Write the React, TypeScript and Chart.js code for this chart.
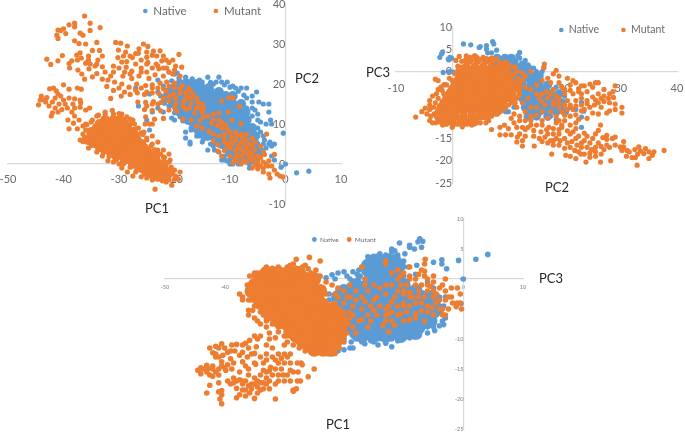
import React, { useEffect, useRef } from "react";
import { Chart, registerables } from "chart.js";

Chart.register(...registerables);

const NATIVE = "#5B9BD5";
const MUTANT = "#ED7D31";
const FONT = "Lato";

// PC1 vs PC2 (flat x,y lists)
const pc12Mutant = [
-36.2,37,-35.2,35.2,-35.2,33.4,-33.4,34.1,-38,35.2,-38,34.3,-39,34.8,-40,33.8,-40.5,33.4,-41,33.5,-41.2,32.2,-39.6,32.6,-41,31.4,-37,32.7,-36.5,32.2,-38,30.8,-37.2,30.1,-36,30,-34,30.4,
-43,26.2,-42.3,24.9,-41,25.8,-40.2,27.1,-39,25.1,-38.5,25.8,-38.9,24,-37.6,27.2,-37,27.8,-36.8,26.5,-36,25.2,-35.5,27,-35.2,25,-37.4,23.5,-36.7,22.5,-35.4,23.8,-34.3,24.5,-33.8,26,-34.8,28.4,-33.5,28.4,-33,24.3,-34.8,21.8,-36.2,21.2,-34,22.6,-33,21.2,-32.5,23,-31,24.5,-31.5,22,-30.8,20.5,-32.2,19.4,-31,18.4,-29.6,17,-31.5,16.4,
-30.6,30.4,-29.7,30.2,-30.1,28.5,-28.8,28,-28.5,29.5,-30.2,26.6,-29.2,27,-27.6,26.6,-28.6,25.6,-27,27.6,-26.4,28.8,-25.6,30,-25,28,-24.8,29.4,-26,26,-24,27.2,-23.8,28.2,-23.2,27,-22.6,28.3,-24.8,25.4,-23.3,25,-22.3,25.8,-21,25.4,-20.3,26,-19.2,27.4,-19.8,24.5,-21.4,24,-22.8,23.8,-18.7,24.2,-30,24,-28.7,24.2,-27.7,23.2,-26,24,-25,23,-29.3,22,-27.7,21.4,-26.4,22,-24.6,21.4,-23.5,22.3,-22,22,-20.3,22.5,-19,22,-29.5,20,-28.2,19.2,-26.8,20,-25.2,19.6,-24,19.8,-22.6,20.2,-21.4,20.5,-20,20.2,-18.6,19.6,-17.4,19,-28,17.4,-26.7,17.8,-25.4,17.4,-24,17.8,-22.8,17.6,-21.5,18.3,-20.2,17.4,-19,17.6,-17.8,17,-16.7,17.4,-26.6,15.5,-25.2,15.4,-23.8,15.6,-22.4,15.4,-21,15.8,-19.7,15.2,-18.4,15.6,-17,15.2,-15.8,15.4,-25.4,13.6,-24,13.4,-22.5,13.3,-21,13.5,-19.6,13.2,-18,13.7,-16.4,12.8,-14.8,11.8,-25.2,11.8,-23.6,11.2,-22,11.4,-25.3,10,-24,10,-18.5,11.2,-17,11,-15.4,10.8,-13,12.5,-13.3,10.2,-12,12.8,-11.5,15.8,-10.2,16.6,-9.5,16.5,-8.3,14.4,-10.3,13,-16,9.4,-15,9,-13.8,8.2,-12.3,9.6,-11.5,10.4,-10.8,9.8,-9.7,11,-8,10,
-13,7.5,-12,7,-11,7.5,-10,8,-9,8,-8,7.5,-13,5.8,-12.2,4.8,-11,5.5,-10,5.5,-9,6,-8,5.5,-7,6,-6,6.5,-12.2,3.2,-11,3.4,-10,4,-9,3.5,-8,3.6,-7,4,-6,4.5,-5.5,3.5,-4.5,4.5,-11.5,2,-10,2,-9,1.5,-8,2,-7,2.5,-6,2.5,-5,2,-3.8,2.4,-2,2.4,-9.5,0.3,-8,0,-7,0.5,-6,1,-5,0.5,-4,0.5,-3,0.8,-6,-1,-5,-1.2,-4,-1,-3.2,-0.5,-2.5,-0.5,-4,-2,-3,-2.5,-2,-1.5,-1.5,-2.5,-1,-3,-0.5,-3.2,-2.8,-3.5,-3.4,7.5,
-44.5,14.8,-44.2,16,-44,17,-43,16.6,-43.2,15.5,-42.5,18.8,-41.8,19,-41.3,18.3,-41.5,16.5,-42,15.5,-42.6,14.5,-41.5,14,-42,12.8,-42.2,12,-41,13,-40.3,13.6,-40,16,-40.5,17,-39.7,15,-39.3,14,-39,16.5,-39,18.7,-38,16.3,-37.5,19,-36.8,18.7,-36.9,15.3,-37,14.2,-38.5,13,-38,12,-37.2,11,-39.2,11,-38.2,10.2,-39,8.8,-37.5,8.8,-36.5,9.5,-36,13.5,-35.3,14,-40,19.8,
-36.5,7.5,-36.5,5.6,-37,6,-35.5,4,-34,3,-33,2,-32,0.8,-31,0.5,-30,0,-29.5,-1,-28.5,-2,-27.5,-3,-27,-2,-26,-3.2,-25,-3.5,-24,-4,-23.5,-6.3,-20.5,-5.3,-20,-3.8,-19.3,-3.8,-21,-4,-21.5,-4.5,-20,-1.5,-19,-2,-20.8,1,-21.5,0,-22,1.8,-23,3.5,-24,5,-25,6.5,-26,7.8,-27,8.8,-28,10,-29,11,-27.5,11,-29.5,12.5,-31,12.5,-32.5,12.5,-34,12,-35,10.5,-36,10,-25.5,8,-24,7,-23,5.5,-22,3.5,-21,2.5,-24.5,10,
];
const pc12MutantMore = [
-36,8.5,-35.8,9.8,-34.8,11,-33.7,12.2,-32.5,13,-31.2,13.4,-30,12.6,-28.6,11.8,-28,11.2,-27.2,10,-26.5,9,-25.7,7.4,-25,6,-24.2,4.6,-23.6,3.6,-22.5,2.5,-21.8,1.6,-21,0.5,-20.6,-0.8,-20.4,-2,-19.8,-3,-21,-3.2,-22.2,-4.2,-23,-3.8,-24.3,-3,-25.5,-2.5,-26.8,-1.5,-28,-0.8,-29.2,0,-30.5,1,-31.8,1.9,-32.8,2.8,-33.8,3.6,-35,4.6,-35.8,5.5,-36.2,6.6,
-26,23,-27,25,-25,25,-24,24,-23,24.5,-22,24,-21,23,-20,23.5,-28,22.5,-29,23,-31,23,-32,21,-30,19,-29,18,-27,18.5,-26,19,-25,18,-24,19,-23,19,-22,18.8,-21,19.5,-20,19,-19,18.7,-18,18,-17,18,-16,16.5,-15,15,-14.8,14,-22,16.5,-21,17,-19.8,16.5,-18,16.2,-17,16.5,-16,14,-15,13,-14,12,-13,11,-12,11,-11.5,9,-10.5,8.8,-11,6.5,-9.8,6.8,-8.8,7,-7.8,6.6,-7,7.5,-10.5,4.7,-9.5,5,-8.5,4.5,-7.5,5,-6.5,5,-5.5,5.5,-8.8,2.6,-7.5,3,-6.5,3.2,-6.5,1.5,-5.5,1.5,-4.5,1.5,-4,3,-7.5,1,-8.7,0.9,-5.5,-0.3,-4.5,-0.5,-3.5,0,-24,15,-23,15,-25,14.5,-20,14.3,-18.5,14.5,-17.3,14,-15.5,14,-38,14,-37,16,-40.8,15,-43.5,16,-41,17.5,-38.3,15,-34,25,-35.5,26,-37.5,26,-33,27,-28,27,-29.5,25.5,-26.5,27.7,-25,26.7,-22,27,-21.5,26,
];
const pc12MutantDense = [
-32.5,11,-31,11,-29.8,11,-34,9,-32.6,9,-31.2,9,-29.8,9,-28.5,9,-35,7,-33.6,7,-32.2,7,-30.8,7,-29.4,7,-28,7,-27,7,-34,5,-32.6,5,-31.2,5,-29.8,5,-28.4,5,-27,5,-26,5,-31.5,3,-30,3,-28.6,3,-27.2,3,-25.8,3,-24.8,3,-29,1,-27.6,1,-26.2,1,-24.8,1,-23.4,1,-26,-1,-24.6,-1,-23.2,-1,-22,-1,-23.5,-3,-22,-3,
-33.5,10,-32,10,-30.5,10,-29,10,-35,8,-33.5,8,-32,8,-30.5,8,-29,8,-27.5,8,-35.5,6,-34,6,-32.5,6,-31,6,-29.5,6,-28,6,-26.8,6,-33,4,-31.5,4,-30,4,-28.5,4,-27,4,-25.5,4,-30.5,2,-29,2,-27.5,2,-26,2,-24.5,2,-23.5,2,-27.5,0,-26,0,-24.5,0,-23,0,-22,0,-25,-2,-23.5,-2,-22,-2,-20.8,-2,
];
const pc12Native = [
-27,19,-24.5,17.5,-26.5,14.5,-24,13,-25,11,-24.5,8.5,-23,21,-21,23,-20,22.5,-19.5,22.7,-18,21,-15,20.5,-14,21.7,-13,20,-12,21.7,-11.5,20.5,-10.5,20.5,-9.5,19.5,-9,19,-8,19,-7,19,-5.2,18,-6,17,-4.8,15.5,-4,15,-3,15,-3,13,-2.7,11,-5,11,-3.5,10,-2.5,10,-4.5,8,-5,5,-4,5,-3,5,-2,5,-3.5,4,-2.5,4.5,-0.4,7.7,0,0,-0.8,-0.8,2,-2.2,4.2,-1.8,-2,1,-2.5,2,-18,8,-18,6.5,-17.2,5,-17.2,5.5,-14,3.5,-13,4.5,-15.5,7,-16,8,-15,5.5,-11,1,-10,0,-9.5,0,-8.5,0,-6.5,-1,-6.5,0,-5,-0.2,-5,1,-4.5,2.5,-10,1.2,-17,9,-20,11,-20.5,11.5,-22,13,-23,14,-22,16,-23,18,-6,14,-6,12,-7,16.5,-7,14,-7.5,11,-6.5,9,-8,6,-9.5,3,-12,3,-11,2,
-22,19.5,-20.5,20.8,-19.2,21.5,-18,21.7,-16.8,21.3,-15.5,21,-13.5,20.4,-12.5,20.5,-11,19.8,-10,19.2,-8.5,18.2,-7.5,17.2,-6,15.5,-5.5,13.5,-5,12.5,-4.5,10.5,-5,9,-4,7,-5,7,-3.8,6,-2.8,5.5,-18.5,10.8,-19,11.8,-20,12.8,-21,14.5,-21.8,15.2,-22.5,17,-17,8.5,-16,7,-14.8,6.2,-13.5,5,-12.8,3.5,-11.5,1,-10.5,0.8,
];
const pc12NativeDense = [
-19,20,-17.5,20,-16,20,-21,18,-19.5,18,-18,18,-16.5,18,-15,18,-13.5,18,-12,18,-20.5,16,-19,16,-17.5,16,-16,16,-14.5,16,-13,16,-11.5,16,-10,16,-19.5,14,-18,14,-16.5,14,-15,14,-13.5,14,-12,14,-10.5,14,-9,14,-18,12,-16.5,12,-15,12,-13.5,12,-12,12,-10.5,12,-9,12,-7.8,12,-16.5,10,-15,10,-13.5,10,-12,10,-10.5,10,-9,10,-7.5,10,-15,8,-13.5,8,-12,8,-10.5,8,-9,8,-7.5,8,-12.5,6,-11,6,-9.5,6,-8,6,-6.5,6,-10.5,4,-9,4,-7.5,4,-6,4,-9,2,-7.5,2,-6,2,
-20,19,-18.2,19,-16.8,19,-15.2,19,-13.8,19,-21.3,17,-19.8,17,-18.3,17,-16.8,17,-15.3,17,-13.8,17,-12.3,17,-10.8,17,-9.5,17,-20,15,-18.5,15,-17,15,-15.5,15,-14,15,-12.5,15,-11,15,-9.5,15,-8,15,-19,13,-17.5,13,-16,13,-14.5,13,-13,13,-11.5,13,-10,13,-8.5,13,-7.2,13,-17.5,11,-16,11,-14.5,11,-13,11,-11.5,11,-10,11,-8.5,11,-7,11,-16,9,-14.5,9,-13,9,-11.5,9,-10,9,-8.5,9,-7,9,-6,9,-14,7,-12.5,7,-11,7,-9.5,7,-8,7,-6.5,7,-5.5,7,-11.5,5,-10,5,-8.5,5,-7,5,-5.5,5,-10,3,-8.5,3,-7,3,-5.5,3,-4.5,3,-8.5,1,-7,1,-5.5,1,
];

// PC2 vs PC3
const pc23Mutant = [
37.7,-17.7,35.9,-18,35.6,-18.8,35,-19.5,34.1,-18.4,33.2,-16.9,32.9,-21,32,-19.3,32.6,-19.3,34.4,-17.3,33.5,-17.8,31.1,-17.7,30.5,-15.7,30.5,-16.9,30.2,-17.7,29.9,-16.9,29,-14.7,28.2,-20,26.4,-20.3,26.4,-12,23.8,-20.3,22.9,-18.5,20.2,-18.8,21,-17,17.7,-18.5,14.6,-16.7,12.5,-16.7,11.6,-14.7,
27.5,-14.3,28.5,-15,26.8,-14.8,27.5,-16.5,28,-17,27,-17.5,26.5,-18.5,25.5,-17,26,-16,25,-15,24.5,-16,24.8,-17.5,25.5,-19,24.5,-18.3,24,-17,23.5,-15.5,24,-14.5,23,-16,23,-17,22.2,-16.5,22,-15,22.5,-18,21.8,-17.7,21.3,-15.7,21,-14,20.5,-16,20,-17.2,20,-15,20.5,-13.3,19.5,-12.5,19,-14,19.2,-15.5,18.5,-15,18,-14,18,-12.8,17.5,-15.5,17,-16,17,-14,17.2,-12.5,16.5,-14.7,16,-15.7,15.5,-15,15.8,-13.5,15,-12,14.5,-13.2,13.5,-12.5,13,-14.5,12.5,-15.5,11.5,-15.8,10.5,-14.2,9.5,-14.2,8.5,-14.2,8.5,-12.5,7,-13,9.3,-12,11,-11.5,12,-11,13,-11,12.5,-12.5,14,-11,16,-11,17,-10.5,18.5,-10,18.5,-11.5,20,-11,21,-12,22,-11.5,22,-12.8,16,-9,17.5,-9,15,-8,16.5,-7.5,15.5,-6,
16.4,1.7,16.3,0.8,18.5,0.3,18,-0.5,19,-1,17,-1.5,16,-2,15,-3,17.5,-2.5,19,-2.5,20.5,-1.5,21.5,-2,22,-2.5,21,-3,19.5,-3.5,18,-4,16.8,-4.5,23,-3.2,23.5,-3.2,25.5,-2.5,26,-2.5,25,-3.5,24,-4.5,22.5,-4.5,21.5,-5,20,-5,18.5,-5.5,17,-6,28.6,-4.5,28,-5,29,-3.2,27,-5.5,26,-5,25,-5.7,24,-6.5,23,-6,22,-6.5,20.5,-6.5,19,-7,18,-7.5,27,-6.7,28,-7,29,-7.3,30.2,-8,30.2,-9.3,29,-8.5,28,-8.8,27.5,-9.3,26.5,-8,26,-7,25.3,-7.5,24.5,-8,25,-9.3,23.5,-8.5,23,-7.5,26,-9.5,24,-10.5,21.5,-8.5,20.5,-8.5,21,-7.5,19.5,-9,19,-8,
13,-1,12.5,-0.3,14,0,12.5,-2,11.5,-3,13,-3.5,14,-4,15,-5,12,-5,13.5,-6,12.5,-7,14,-8,11.5,-8,13,-9,11,-9.5,10.5,-10.5,12,-10,15,-9.8,14,-10,
-6.5,-10.2,-5.4,-9,-4.5,-9.5,-4,-8.5,-3.8,-10,-3.5,-11.5,-3,-7,-4,-6.5,-4,-7.5,-3.5,-5.5,-2.8,-5,-3,-11.5,-2.5,-4,-2,-3.5,-2.5,-2,-3,-1.7,-1.5,-3,-1,-11.8,0.2,-12,1,-11.8,2.5,-11.8,-0.5,-1.5,0.5,-4,1,-1,1,0.2,1.25,3.4,0.65,2.5,1.7,1,2.3,2.5,3.2,3.2,4.3,3.3,4,3.5,
6,-11.5,7.5,-9.5,8.5,-9,9.5,-8,10.5,-7,11.5,-6,11,-5,11.5,-4,11.5,-2,11,-0.5,10.5,1,11,1,7,1.5,9,1.5,8.5,2,6,2.5,
];
const pc23MutantMore = [
-1.5,-5,-2.5,-6,-3.3,-8,-4.8,-8.2,-3.2,-9.5,-4,-11,-2.5,-11.3,-1.7,-12,0,-12.5,1.8,-12.4,3.5,-12,5,-11.5,6.5,-11,7,-10,8,-9.5,9,-8.7,10,-7.5,11.2,-7,11.8,-5.5,12,-4,12,-2.8,11.8,-1.5,11.6,0,11.2,1,10,1.5,9.5,2.2,8,2.8,7,3,5.5,3.2,4,3.5,2.5,3.5,1.7,2.3,1,1.2,0.5,-0.5,0,-2,-1,-3,-1.8,-4.2,
22.5,-3.8,24.5,-2.8,27,-4,26.5,-6,27.8,-6,28.7,-5.8,25.5,-6.4,24,-7.2,23,-8.8,22,-9.7,21,-10,20,-9.8,19,-11,22.5,-10.7,23,-5,21,-4.2,20,-4,19,-6,17.5,-5,16,-5,18,-6.7,16,-6.8,20,-7.5,22,-7.7,19.5,-12,21.5,-13.5,22.5,-14.5,23.5,-13.8,25.5,-14,26,-13.2,27.5,-15.2,29,-16.5,26.5,-16.8,25.5,-18,23.5,-18.5,24.5,-19.2,22,-19.5,21,-19,19,-16.5,18,-16.5,16,-12,16.8,-13,18,-15.5,19,-13,14,-12,14.5,-14.5,13,-13,11.5,-12.5,10,-12.8,12,-14,31.5,-18,32.5,-17.5,33,-18.5,35,-18,31,-19,
];
const pc23MutantDense = [
3,2.5,4.5,2.5,6,2.5,7,2.5,2.5,1,4,1,5.5,1,7,1,8.5,1,9.5,1,2,0,3.5,0,5,0,6.5,0,8,0,9.5,0,1,-2,2.5,-2,4,-2,5.5,-2,7,-2,8.5,-2,10,-2,0,-4,1.5,-4,3,-4,4.5,-4,6,-4,7.5,-4,9,-4,10.5,-4,-1,-6,0.5,-6,2,-6,3.5,-6,5,-6,6.5,-6,8,-6,9.5,-6,10.5,-6,-2,-8,-0.5,-8,1,-8,2.5,-8,4,-8,5.5,-8,7,-8,8.5,-8,-2.5,-10,-1,-10,0.5,-10,2,-10,3.5,-10,5,-10,6,-10,-1.5,-11.3,0,-11.3,1.5,-11.3,3,-11.3,4,-11.3,
1.5,-1,3,-1,4.5,-1,6,-1,7.5,-1,9,-1,10.3,-1,0.5,-3,2,-3,3.5,-3,5,-3,6.5,-3,8,-3,9.5,-3,10.8,-3,-0.5,-5,1,-5,2.5,-5,4,-5,5.5,-5,7,-5,8.5,-5,10,-5,-1.5,-7,0,-7,1.5,-7,3,-7,4.5,-7,6,-7,7.5,-7,9,-7,-2.3,-9,-1,-9,0.5,-9,2,-9,3.5,-9,5,-9,6.5,-9,8,-9,
];
const pc23Native = [
2,6.2,3.3,6,4.8,5.4,5,5.6,6.1,5.8,6.1,5,7.2,6.7,7.4,6.2,6.3,4.2,7,4.2,7.9,4.8,-1.9,4,-1.7,4.4,-2.2,3.2,-0.7,2.8,-0.6,2.6,-0.4,3.2,-0.1,3,-1.3,-2.9,-1.6,-0.2,-0.5,0,0.2,-0.1,1,-5.4,12,4.3,11.7,3.6,10.8,3.2,9.9,2.5,23,-6.9,23.4,-8.9,23,-10.2,23,-12.5,16.3,1,7.9,-9.5,8.5,-8.8,13.5,1.5,14.5,0.8,15,0,15.5,-1,16,0,20,-9,21,-8,22,-8.5,20,-5.5,18.5,-3.5,15.2,-3.8,11,-8,10,-9,9.5,-9,18.5,-10.8,17.5,-10,12,3,13,2.5,
];
const pc23NativeDense = [
8,3,9.4,3,10.5,3,8,1.5,9.5,1.5,11,1.5,12.5,1.5,10.5,0,12,0,13.5,0,11,-2,12.5,-2,14,-2,15,-2,12,-4,13.5,-4,15,-4,16.5,-4,12.5,-6,14,-6,15.5,-6,17,-6,18.5,-6,13,-8,14.5,-8,16,-8,17.5,-8,19,-8,13.5,-10,15,-10,17,-10,
8.8,2.2,10,2.2,11,2.2,9,0.7,10.5,0.7,12,0.7,13.5,0.7,11.5,-1,13,-1,14.5,-1,15.5,-1,12.5,-3,14,-3,15.5,-3,17,-3,13,-5,14.5,-5,16,-5,17.5,-5,19,-5,13.5,-7,15,-7,16.5,-7,18,-7,19.5,-7,14,-9,15.5,-9,17,-9,18.5,-9,20,-9,
];

// PC1 vs PC3
const pc13Mutant = [
-44.5,-15.2,-44,-15.8,-43.6,-15,-43,-15.5,-43,-14.4,-42.5,-16,-42,-15,-42,-14.5,-41.5,-15.5,-41,-16,-41,-15,-40.5,-14.5,-40,-14.8,-39.8,-15.2,-41,-11.5,-41.5,-11.2,-42.5,-11.5,-42,-12.3,-41.5,-12.5,-41,-13,-40.5,-13.8,-40.3,-12.7,-40.5,-10.8,-39.5,-12.2,-39,-13.3,-38.5,-14,-38.3,-12,-38.8,-11,-38,-10.9,-37.5,-12.7,-37,-13.8,-37,-11,-36.5,-10.7,-36.2,-13,-35.5,-12.5,-35,-12.4,-34.8,-14.2,-33.5,-14,-33,-13.5,-34.7,-11.3,-34.5,-10,-34,-9.5,-35,-9.5,-32.5,-10,-33,-11,-33,-12.5,-35.8,-10.2,
-42.5,-17.7,-41,-17.3,-43,-19,-41,-18.8,-40.5,-18.6,-40.5,-19.3,-40.8,-20,-40.5,-20.8,-39.5,-17,-39,-17.5,-38.5,-16.5,-38.5,-17.3,-38,-17,-37.5,-16.8,-37,-17.5,-37,-18.5,-36.5,-18.5,-36.5,-17,-36,-17.8,-36,-16,-35.5,-17.5,-35.5,-18.3,-35,-17.5,-35,-16.5,-34.5,-17,-34.5,-18,-34,-17.3,-34,-16,-33.5,-17.3,-33,-16.5,-33,-15.5,-32.5,-15.3,-32.3,-14.7,-32,-16,-31.5,-15,-31.5,-13.5,-31,-14,-30.5,-15,-30.5,-13.2,-30,-14,-30,-12.5,-29.5,-13,-29,-12.5,-29,-14,-29.5,-16,-29,-17,-30,-17,-31,-17,-31.5,-17.5,-32.5,-18.3,-33.5,-18.3,-34.5,-19,-35,-19.9,-37.5,-19.3,-38,-19.8,-31.5,-20,-28.5,-18.5,-28.5,-18.7,-28,-18.3,-27.8,-14,-27.2,-14,-27,-14.3,-27.8,-17,-27.3,-17,-26,-16.3,-25,-15,-27.7,-15.5,-28.5,-15.5,-29,-15.2,
-37.5,-2.5,-37,-3,-37,-3.5,-36,-2.5,-35.5,-3.5,-36,-5.2,-36,-6,-35.3,-5.2,-35,-6.5,-34.5,-7,-34,-7.5,-33.5,-6,-33,-7,-33,-8,-32.5,-9,-31.5,-9.8,-31,-8.8,-30,-9.5,-30,-7,-29.5,-5.5,-29.5,2,-28.5,2.5,-27,2,-26.5,2.3,-26,1.7,-25.5,1,-25.8,3.6,-24,3,-24.7,1.5,-24,0.5,-23.5,-1.5,-23,-0.5,-35,1,-34,1,-33,2,-32,1.8,-31,2,-30,1.5,-29,2.3,-28,3.3,-28,1.5,-35,-1.5,-34.5,0,
-6.4,3.3,-6.5,2.5,-7,1.5,-6.5,1.3,-9,2,-10,1,-11,1.5,-12,1,-10.5,0.5,-9,0.5,-8,0,-6.5,0.5,-5,0.5,-5,-0.5,-3,0,-3.5,-1,-3,-2,-2,-1.5,-1,-1.5,-0.5,-2.5,-1,-4,-0.5,-4,-1.2,-4.6,-0.3,-5,-3,-3.5,-4,-3.5,-3.5,-5,-3,-6,-5,-3,-5,-2,-6,-1,-6,-2,-7,-1,-7.5,-2,-8,-1,-8.5,-3,-9.5,-1,-9,-2.2,-10,-2.5,-10.5,-1,-11,-2,-12,-1,-11.5,-3,-13,-1,-13,-2.5,-14,-1.5,-14.5,-3,-15,-1,-16,-2,-17,-3,-18,-2,-19,-1,-20,-2,-22,-1,-21,-1.5,-20,-4,-18.5,-4.5,-17,-5,-15.5,-4.5,-14,-4.5,-12.5,-4.5,-11,-4.5,-10,-4,-9,-4.5,-8,-4,-7,-4,-6,-4.5,-7,-5.3,-8,-5.8,-9.5,-5.5,-11,-6,-12.5,-5.8,-14.5,-6,-16,-6,-17.5,-7,-19,-6.5,-18.5,-8,-20,-8,-20,-9.5,-18,-9,-13,-7,-12,-7,-10,-7,-8,-6.5,-6,-5.5,-5,-6,-3.5,-6,-12.5,-8.8,-10,-4.5,-16.5,0,-17,2,-13,3,-13,2.5,
];
const pc13MutantMore = [
-35.8,0.5,-36.2,-1,-36,-3.5,-35,-4.5,-34,-5.5,-33,-6.5,-32,-7.5,-31,-8,-29.8,-8.2,-29.7,-9.5,-29.5,-10.5,-28.5,-11,-27.5,-11.5,-26.5,-12,-25.5,-12.2,-24.5,-12.3,-23,-12,-21.5,-12.4,-20.8,-11.5,-20,-10.5,-19.5,-9,-19.3,-7.5,-20,-6,-20.8,-5,-21.5,-4,-23,-3.8,-23,-2.5,-24,-2,-24.8,-0.5,-26,0.5,-27,1.2,-28,1.8,-29.5,1.5,-31,1.6,-33,1.6,-34.5,1,-35,0.5,-26,-4.5,
-10,-2,-9,-3,-12,-3.8,-13,-5,-15,-3.5,-16.5,-3.8,-18,-3.5,-19.5,-3,-20,-5.5,-18.5,-6,-17,-6.8,-15,-5.2,-13.5,-7.8,-11.5,-7.7,-10.5,-5.8,-9,-6.8,-7.5,-3,-6.5,-3,-5.5,-1.2,-4.5,-2.5,-4,-1.5,-2.5,-3,-2,-3,-2.5,-5,-1.8,-4,-4,-5,-6.5,-7,-9,0,-11,0,-7.5,0.8,-6,0,-5.2,-4.8,-4.6,-4,-16.5,-1,-19,-3,-21,-3,-15.5,-7,-13,-6,-12,-5.5,-16,-8,-19,-5.5,-21,-5,-21.5,-2.5,
-44,-14.8,-42.8,-14.9,-42,-16.2,-39.5,-14.3,-38.8,-15,-36,-15,-37.5,-15.5,-36.5,-14.5,-35,-14,-37,-12.2,-36,-11.5,-39,-12,-34,-13,-32,-11.5,-32,-13,-31,-12.5,-30,-11,-33.5,-15.2,-31,-16,-32.5,-17,-33,-17.5,-34,-18.5,-36.5,-19.5,-35.8,-19,-30.2,-16,-41.5,-13,-40,-11.5,-37,-17,-38,-18.2,
];
const pc13MutantDense = [
-33,1,-31,1,-29,1,-27.5,1,-35,-1,-33,-1,-31,-1,-29,-1,-27,-1,-25.5,-1,-34.5,-3,-32.5,-3,-30.5,-3,-28.5,-3,-26.5,-3,-24.5,-3,-33,-5,-31,-5,-29,-5,-27.5,-5,-31,-7,-29.5,-7,-25,-5,-23.5,-5,-22,-5,-28,-6.5,-26.5,-6.5,-25,-6.5,-23.5,-6.5,-22,-6.5,-20.8,-6.5,-28.5,-8,-27,-8,-25.5,-8,-24,-8,-22.5,-8,-21,-8,-28,-9.5,-26.5,-9.5,-25,-9.5,-23.5,-9.5,-22,-9.5,-26,-11,-24.5,-11,-23,-11,-21.8,-11,
-31,0,-29,0,-27.5,0,-34,0,-32,0,-30,0,-28,0,-26.3,0,-25,0,-35.5,-2,-33.5,-2,-31.5,-2,-29.5,-2,-27.5,-2,-25.7,-2,-24,-2,-34,-4,-32,-4,-30,-4,-28,-4,-26,-4,-24,-4,-32,-6,-30.2,-6,-28.5,-6,-26.8,-6,-24.2,-5.8,-22.8,-5.8,-21.5,-5.8,-27.5,-7.2,-26,-7.2,-24.5,-7.2,-23,-7.2,-21.6,-7.2,-20.4,-7.2,-30.3,-7.2,-29,-8.8,-27.5,-8.8,-26,-8.8,-24.5,-8.8,-23,-8.8,-21.5,-8.8,-20.5,-8.8,-27,-10.3,-25.5,-10.3,-24,-10.3,-22.5,-10.3,-21.3,-10.3,-25,-11.8,-23.5,-11.8,-22.5,-11.8,
];
const pc13Native = [
-7.3,6.7,-6.8,6.3,-7,5.3,-7.6,6.2,-8.2,5,-9,5.6,-9,5.3,-10.7,6,-9.8,4.2,-10,3,-7.8,2.3,-9.2,2,-5,2.8,-3.6,3.2,-3.6,2.5,-0.8,3.1,2.1,3.3,4.1,4.1,0,0,-2.8,1.7,-0.4,-4.1,-3.3,-7.6,-23,0.2,-22,0.7,-21,1,-20,1.2,-18.5,1.2,-17.5,1.5,-17.8,0.8,-16,1,-19,0,-17.5,0.2,-21,-12,-20,-11.8,-19,-11.5,-18.5,-11.5,-17,-10.5,-16.5,-10.8,-16,-9.8,-14.3,-11,-12,-11.3,-12,-10,-22,-12.5,-12,-8.8,-7,-8.5,-6,-8,-5,-8,-5,-7,-4.5,-6,-3.5,-7,-3,-6.5,-3.3,-4.5,-3,-3,-16.5,2.5,-16,3,-15,3.8,-14.5,3.8,-12.5,3.8,-12,4.5,-11.5,4.7,-11,3.5,-11,4,-10.8,2.5,-14,-9.9,-10,-9.5,-8.5,-9,-15.5,-10.3,-18,-10,
-22.5,-3.5,-22.5,-5,-21.5,-6.5,-21,-8,-20,-10,-18.8,-10.5,-15,-10.5,-13,-10.7,-11,-10.3,-9,-9.8,-7.5,-9.5,-6,-9,-4.8,-8.6,-4,-7.8,-3.6,-5.8,-4,-3,-5,-1.5,-6,-0.5,-8,0.8,-10,0.5,-10,2,-17,-0.8,-19,-1,-21,-1.8,-22.5,-2.5,-19.5,0.5,-21.5,0,-12,5,-13,4,-14,4.2,-16,3.7,-17,2,-17.3,0.5,-15.3,2.8,
];
const pc13NativeDense = [
-15,3,-14,3,-12.5,3,-11.5,3,-16,1.5,-14.5,1.5,-13,1.5,-11.5,1.5,-15,0,-13,0,-20,-2,-18,-2,-16,-2,-14,-2,-12,-2,-10,-2,-8,-2,-21,-4,-19,-4,-17,-4,-15,-4,-13,-4,-11,-4,-9,-4,-7,-4,-5,-4,-20,-6,-18,-6,-16,-6,-14,-6,-12,-6,-10,-6,-8,-6,-6,-6,-19,-8,-17,-8,-15,-8,-13,-8,-11,-8,-9,-8,-7.5,-8,-17,-9.5,-15,-9.5,-13,-9.5,-10.5,-9.5,
-16,2.2,-14.5,2.2,-13,2.2,-11.5,2.2,-10.8,2.2,-15.5,0.8,-14,0.8,-12.5,0.8,-11,0.8,-18,-1,-16,-1,-14,-1,-12,-1,-10,-1,-21,-3,-19,-3,-17,-3,-15,-3,-13,-3,-11,-3,-9,-3,-7,-3,-5.5,-3,-20,-5,-18,-5,-16,-5,-14,-5,-12,-5,-10,-5,-8,-5,-6,-5,-4.5,-5,-19.5,-7,-17.5,-7,-15.5,-7,-13.5,-7,-11.5,-7,-9.5,-7,-7.5,-7,-5.5,-7,-18,-9,-16,-9,-14,-9,-12,-9,-10,-9,-8,-9,
];

const pairs = (flat: number[]) => {
  const out: { x: number; y: number }[] = [];
  for (let i = 0; i + 1 < flat.length; i += 2) out.push({ x: flat[i], y: flat[i + 1] });
  return out;
};

const MARGIN = 60;

type Spec = {
  plot: { l: number; t: number; r: number; b: number };
  xr: [number, number];
  yr: [number, number];
  tick: number; tickColor: string; xPad: number; yPad: number;
  dot: number; dense: number;
  legend: { x: number; y: number; size: number; gap: number; r: number };
  titles: { text: string; x: number; y: number; size: number }[];
  mutant: number[]; mutantDense: number[]; native: number[]; nativeDense: number[];
};

const specs: Spec[] = [
  {
    plot: { l: 8, t: 4, r: 341, b: 204 }, xr: [-50, 10], yr: [-10, 40],
    tick: 11, tickColor: "#6b6b6b", xPad: 9, yPad: 7, dot: 2.6, dense: 5,
    legend: { x: 143, y: 11, size: 11.5, gap: 27, r: 2.3 },
    titles: [{ text: "PC2", x: 307, y: 79, size: 13 }, { text: "PC1", x: 157, y: 209, size: 13 }],
    mutant: [...pc12Mutant, ...pc12MutantMore], mutantDense: pc12MutantDense, native: pc12Native, nativeDense: pc12NativeDense,
  },
  {
    plot: { l: 396, t: 27, r: 677, b: 183 }, xr: [-10, 40], yr: [-25, 10],
    tick: 11, tickColor: "#6b6b6b", xPad: 10, yPad: 7, dot: 2.6, dense: 4.5,
    legend: { x: 559, y: 30, size: 10.5, gap: 22, r: 2.3 },
    titles: [{ text: "PC3", x: 378, y: 73, size: 13 }, { text: "PC2", x: 557, y: 188, size: 13 }],
    mutant: [...pc23Mutant, ...pc23MutantMore], mutantDense: pc23MutantDense, native: pc23Native, nativeDense: pc23NativeDense,
  },
  {
    plot: { l: 165, t: 219, r: 523, b: 429 }, xr: [-50, 10], yr: [-25, 10],
    tick: 5.5, tickColor: "#7a7a7a", xPad: 5, yPad: 6, dot: 2.8, dense: 7,
    legend: { x: 312, y: 239.5, size: 6.5, gap: 8, r: 2.4 },
    titles: [{ text: "PC3", x: 551, y: 279, size: 13 }, { text: "PC1", x: 338, y: 425, size: 13 }],
    mutant: [...pc13Mutant, ...pc13MutantMore], mutantDense: pc13MutantDense, native: pc13Native, nativeDense: pc13NativeDense,
  },
];

const axis = (s: Spec, range: [number, number], step: number, pos: any, pad: number) => ({
  type: "linear",
  min: range[0],
  max: range[1],
  position: pos,
  grid: { display: false, drawTicks: false },
  border: { display: true, color: "#D9D9D9", width: 1.2 },
  ticks: {
    stepSize: step, padding: pad, color: s.tickColor, maxRotation: 0, autoSkip: false,
    font: { family: FONT, size: s.tick },
  },
});

function Panel({ spec }: { spec: Spec }) {
  const ref = useRef<HTMLCanvasElement>(null);
  const { plot } = spec;
  const left = plot.l - MARGIN;
  const top = plot.t - MARGIN;
  const width = plot.r - plot.l + 2 * MARGIN;
  const height = plot.b - plot.t + 2 * MARGIN;

  useEffect(() => {
    const placer = {
      id: "placer",
      beforeDraw(chart: any) {
        const lg = chart.legend;
        const p = lg.options.labels.padding;
        lg.left = spec.legend.x - left - p;
        lg.right = lg.left + width;
        lg.top = spec.legend.y - top - p - spec.legend.size / 2;
        lg.bottom = lg.top + 40 + p;
      },
      afterDraw(chart: any) {
        const c = chart.ctx;
        c.save();
        c.fillStyle = "#262626";
        c.textAlign = "center";
        c.textBaseline = "middle";
        for (const t of spec.titles) {
          c.font = `${t.size}px ${FONT}`;
          c.fillText(t.text, t.x - left, t.y - top);
        }
        c.restore();
      },
    };
    const ds = (label: string, flat: number[], color: string, r: number) => ({
      label, data: pairs(flat), backgroundColor: color, borderColor: color,
      borderWidth: 0, pointRadius: r, pointHoverRadius: r, showLine: false,
    });
    const chart = new Chart(ref.current as HTMLCanvasElement, {
      type: "scatter",
      data: {
        datasets: [
          ds("Mutant", spec.mutant, MUTANT, spec.dot),
          ds("Mutant dense", spec.mutantDense, MUTANT, spec.dense),
          ds("Native", spec.native, NATIVE, spec.dot),
          ds("Native dense", spec.nativeDense, NATIVE, spec.dense),
        ],
      },
      options: {
        animation: false,
        responsive: false,
        devicePixelRatio: 1,
        layout: { padding: { left: MARGIN, right: MARGIN, top: 0, bottom: MARGIN } },
        plugins: {
          tooltip: { enabled: false },
          legend: {
            display: true,
            position: "top",
            align: "start",
            labels: {
              usePointStyle: true,
              pointStyle: "circle",
              boxHeight: spec.legend.r * 1.414,
              pointStyleWidth: spec.legend.r * 2,
              padding: spec.legend.gap,
              color: "#6b6b6b",
              font: { family: FONT, size: spec.legend.size },
              filter: (it: any) => !it.text.endsWith("dense"),
              sort: (a: any, b: any) => b.datasetIndex - a.datasetIndex,
            },
          },
        },
        scales: {
          x: axis(spec, spec.xr, 10, { y: 0 }, spec.xPad),
          y: axis(spec, spec.yr, spec.yr[1] === 40 ? 10 : 5, { x: 0 }, spec.yPad),
        },
      } as any,
      plugins: [placer],
    } as any);
    // The legend is moved into the plot, so take its reserved height out of the top padding.
    const reserved = (chart as any).legend.height;
    (chart.options as any).layout.padding.top = MARGIN - reserved;
    chart.update();
    return () => chart.destroy();
  }, []);

  return (
    <canvas
      ref={ref}
      width={width}
      height={height}
      style={{ position: "absolute", left, top, width, height, display: "block", filter: "blur(0.4px)" }}
    />
  );
}

export default function App() {
  return (
    <div style={{ position: "fixed", left: 0, top: 0, width: 685, height: 432, overflow: "hidden", background: "#fff" }}>
      {specs.map((s, i) => (
        <Panel key={i} spec={s} />
      ))}
    </div>
  );
}
